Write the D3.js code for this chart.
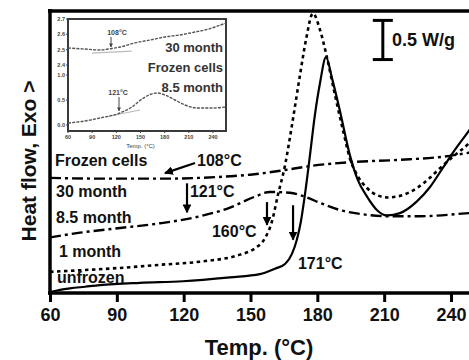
<!DOCTYPE html>
<html>
<head>
<meta charset="utf-8">
<script src="https://cdn.jsdelivr.net/npm/d3@7"></script>
<style>
  body { margin: 0; background: #fff; }
  svg { display: block; font-family: "Liberation Sans", Arial, sans-serif; font-weight: bold; }
</style>
</head>
<body>
<svg id="chart"></svg>
<script>
// main DSC curves: temperature (°C) and heat flow (W/g, arbitrary offset)
const unfrozenT = [60, 64.5, 69, 75.7, 82.4, 100.4, 119.7, 140.8, 154.2, 161, 165.5, 168.6, 170.8, 172.6, 174.4, 176.7, 178.9, 181.2, 183.9, 186.6, 190.1, 194.6, 198.2, 202.3, 206.7, 211.2, 217.1, 224.7, 230.5, 236.4, 241.8, 248, 252.9];
const unfrozenV = [0.01, 0.04, 0.06, 0.08, 0.10, 0.13, 0.15, 0.20, 0.24, 0.31, 0.37, 0.50, 0.68, 0.91, 1.25, 1.76, 2.27, 2.68, 3.01, 2.74, 2.33, 1.76, 1.44, 1.23, 1.06, 0.99, 1.02, 1.17, 1.35, 1.60, 1.83, 2.07, 2.27];

const month1T = [60, 73.5, 91.4, 109.4, 127.3, 145.3, 152, 156.5, 159.6, 162.3, 165.5, 168.6, 172.2, 174.9, 178, 181.2, 184.3, 187.9, 191.5, 194.6, 198.2, 202.3, 206.7, 211.7, 217.1, 224.7, 230.5, 236.4, 241.8, 248, 252.9];
const month1V = [0.27, 0.29, 0.32, 0.36, 0.40, 0.49, 0.57, 0.70, 0.91, 1.25, 1.63, 2.14, 2.78, 3.23, 3.57, 3.36, 3.01, 2.53, 2.08, 1.72, 1.49, 1.34, 1.25, 1.22, 1.24, 1.34, 1.47, 1.63, 1.76, 1.91, 2.06];

const month30T = [60, 82.4, 100.4, 113.9, 127.3, 140.8, 149.8, 165.5, 176.7, 194.6, 217.1, 236.4, 248, 252.9];
const month30V = [1.47, 1.46, 1.46, 1.46, 1.47, 1.49, 1.51, 1.57, 1.62, 1.67, 1.70, 1.74, 1.79, 1.81];

const month85T = [60, 73.5, 91.4, 109.4, 127.3, 140.8, 152, 158.7, 167.7, 174.4, 181.2, 190.1, 199.1, 211.2, 226, 248, 252.9];
const month85V = [0.71, 0.77, 0.83, 0.89, 0.98, 1.09, 1.23, 1.29, 1.28, 1.23, 1.15, 1.06, 1.01, 0.98, 0.98, 1.02, 1.03];

const xTicks = [60, 90, 120, 150, 180, 210, 240];

// inset curves
const insetTopT = [60, 81.1, 99.7, 114.6, 124.5, 143.2, 161.8, 180.4, 199, 217.6, 230.1, 242.5, 256.1];
const insetTopV = [2.511, 2.504, 2.498, 2.508, 2.517, 2.544, 2.563, 2.583, 2.596, 2.615, 2.628, 2.648, 2.674];
const insetBotT = [60, 81.1, 99.7, 124.5, 139.4, 151.9, 161.8, 170.5, 180.4, 192.8, 205.2, 220.1, 238.7, 256.1];
const insetBotV = [0.04, 0.08, 0.14, 0.24, 0.36, 0.52, 0.61, 0.64, 0.60, 0.50, 0.40, 0.34, 0.34, 0.36];
const insetTopTicks = [2.4, 2.5, 2.6, 2.7];
const insetBotTicks = [0.0, 0.5, 1.0];

const W = 469, H = 360;
const svg = d3.select("#chart").attr("width", W).attr("height", H);

const x = d3.scaleLinear().domain([60, 240]).range([50, 451]);
const y = d3.scaleLinear().domain([0, 3.6]).range([293, 11]);

svg.append("clipPath").attr("id", "plotClip")
  .append("rect").attr("x", 50).attr("y", 11).attr("width", W - 50).attr("height", 282);

const line = d3.line().x(d => x(d[0])).y(d => y(d[1])).curve(d3.curveMonotoneX);
const zip = (a, b) => a.map((t, i) => [t, b[i]]);

const curves = [
  { t: month30T, v: month30V, dash: "11,4,3,4", w: 2.4 },
  { t: month85T, v: month85V, dash: "11,4,3,4", w: 2.4 },
  { t: month1T, v: month1V, dash: "3.5,3.5", w: 2.6 },
  { t: unfrozenT, v: unfrozenV, dash: null, w: 2.2 }
];

const plot = svg.append("g").attr("clip-path", "url(#plotClip)");
curves.forEach(c => {
  plot.append("path")
    .attr("d", line(zip(c.t, c.v)))
    .attr("fill", "none")
    .attr("stroke", "#000")
    .attr("stroke-width", c.w)
    .attr("stroke-dasharray", c.dash);
});

// frame + axis
svg.append("line").attr("x1", 48).attr("x2", W).attr("y1", 11).attr("y2", 11)
  .attr("stroke", "#000").attr("stroke-width", 3.5);
svg.append("line").attr("x1", 50).attr("x2", 50).attr("y1", 9).attr("y2", 295)
  .attr("stroke", "#000").attr("stroke-width", 3.5);

const xAxis = svg.append("g").attr("transform", "translate(0,293)")
  .call(d3.axisBottom(x).tickValues(xTicks).tickSize(9).tickSizeOuter(0).tickPadding(6));
xAxis.select(".domain").attr("d", `M48,0H${W + 10}`).attr("stroke-width", 3.5);
xAxis.selectAll(".tick line").attr("stroke-width", 3);
xAxis.selectAll(".tick text")
  .attr("fill", "#111").style("font-size", "18px").style("font-weight", "bold")
  .style("font-family", "'Liberation Sans', Arial, sans-serif");

svg.append("text").attr("x", 259).attr("y", 355).attr("text-anchor", "middle")
  .style("font-size", "22px").attr("fill", "#111").text("Temp. (°C)");
svg.append("text")
  .attr("transform", "translate(36,161) rotate(-90)")
  .attr("text-anchor", "middle").style("font-size", "21px").attr("fill", "#111")
  .text("Heat flow, Exo >");

// arrow marker
svg.append("defs").append("marker")
  .attr("id", "arr").attr("viewBox", "0 0 10 10").attr("refX", 9).attr("refY", 5)
  .attr("markerWidth", 4).attr("markerHeight", 4).attr("orient", "auto")
  .append("path").attr("d", "M0,0L10,5L0,10Z").attr("fill", "#000");

// curve labels
const labels = [
  ["Frozen cells", 62.2, 1.62],
  ["30 month", 62.7, 1.23],
  ["8.5 month", 62.7, 0.89],
  ["1 month", 64.0, 0.46],
  ["unfrozen", 63.1, 0.13],
  ["108°C", 126.0, 1.62],
  ["121°C", 122.8, 1.23],
  ["160°C", 132.7, 0.71],
  ["171°C", 171.3, 0.31]
];
svg.selectAll(".lbl").data(labels).enter().append("text")
  .attr("class", "lbl")
  .attr("x", d => x(d[1])).attr("y", d => y(d[2]))
  .style("font-size", "16px").attr("fill", "#111")
  .text(d => d[0]);

const arrows = [
  [125.1, 1.66, 111.6, 1.53],
  [121.5, 1.40, 121.5, 1.03],
  [157.4, 1.16, 157.4, 0.87],
  [169.1, 1.12, 169.1, 0.68]
];
svg.selectAll(".arw").data(arrows).enter().append("line")
  .attr("class", "arw")
  .attr("x1", d => x(d[0])).attr("y1", d => y(d[1]))
  .attr("x2", d => x(d[2])).attr("y2", d => y(d[3]))
  .attr("stroke", "#000").attr("stroke-width", 2.2)
  .attr("marker-end", "url(#arr)");

// scale bar 0.5 W/g
const sbT = 209.4, sbTop = 3.48, sbLen = 0.5;
const sb = svg.append("g").attr("stroke", "#000").attr("stroke-width", 3);
sb.append("line").attr("x1", x(sbT)).attr("x2", x(sbT)).attr("y1", y(sbTop)).attr("y2", y(sbTop - sbLen));
sb.append("line").attr("x1", x(sbT) - 10).attr("x2", x(sbT) + 10).attr("y1", y(sbTop)).attr("y2", y(sbTop));
sb.append("line").attr("x1", x(sbT) - 10).attr("x2", x(sbT) + 10).attr("y1", y(sbTop - sbLen)).attr("y2", y(sbTop - sbLen));
svg.append("text").attr("x", x(213.5)).attr("y", y(3.15))
  .style("font-size", "18px").attr("fill", "#111").text("0.5 W/g");

// ---------- INSET ----------
const ix = d3.scaleLinear().domain([60, 240]).range([68, 213]);
const iyTop = d3.scaleLinear().domain([2.4, 2.7]).range([65, 19]);
const iyBot = d3.scaleLinear().domain([0, 1]).range([125, 75]);
const inset = svg.append("g");

inset.append("rect").attr("x", 68).attr("y", 19).attr("width", 158).attr("height", 112)
  .attr("fill", "#fff").attr("stroke", "#3a3a3a").attr("stroke-width", 2);

// faint onset tangents
inset.append("line").attr("x1", ix(89.8)).attr("x2", ix(139)).attr("y1", iyTop(2.478)).attr("y2", iyTop(2.49))
  .attr("stroke", "#bbb").attr("stroke-width", 1.2);
inset.append("line").attr("x1", ix(105.9)).attr("x2", ix(149.4)).attr("y1", iyBot(0.16)).attr("y2", iyBot(0.30))
  .attr("stroke", "#bbb").attr("stroke-width", 1.2);

const iTopLine = d3.line().x(d => ix(d[0])).y(d => iyTop(d[1])).curve(d3.curveMonotoneX);
const iBotLine = d3.line().x(d => ix(d[0])).y(d => iyBot(d[1])).curve(d3.curveMonotoneX);
inset.append("path").attr("d", iTopLine(zip(insetTopT, insetTopV)))
  .attr("fill", "none").attr("stroke", "#555").attr("stroke-width", 1.4).attr("stroke-dasharray", "3,1.2");
inset.append("path").attr("d", iBotLine(zip(insetBotT, insetBotV)))
  .attr("fill", "none").attr("stroke", "#555").attr("stroke-width", 1.4).attr("stroke-dasharray", "3,1.2");

const tickStyle = sel => sel.style("font-size", "5.5px").attr("fill", "#444");
xTicks.forEach(t => {
  inset.append("line").attr("x1", ix(t)).attr("x2", ix(t)).attr("y1", 131).attr("y2", 133)
    .attr("stroke", "#444").attr("stroke-width", 1);
  tickStyle(inset.append("text").attr("x", ix(t)).attr("y", 138.5).attr("text-anchor", "middle").text(t));
});
insetTopTicks.forEach(v => {
  inset.append("line").attr("x1", 66).attr("x2", 68).attr("y1", iyTop(v)).attr("y2", iyTop(v))
    .attr("stroke", "#444").attr("stroke-width", 1);
  tickStyle(inset.append("text").attr("x", 65).attr("y", iyTop(v) + 2).attr("text-anchor", "end").text(v.toFixed(1)));
});
insetBotTicks.forEach(v => {
  inset.append("line").attr("x1", 66).attr("x2", 68).attr("y1", iyBot(v)).attr("y2", iyBot(v))
    .attr("stroke", "#444").attr("stroke-width", 1);
  tickStyle(inset.append("text").attr("x", 65).attr("y", iyBot(v) + 2).attr("text-anchor", "end").text(v.toFixed(1)));
});
inset.append("text").attr("x", ix(150)).attr("y", 148).attr("text-anchor", "middle")
  .style("font-size", "6px").style("font-weight", "normal").attr("fill", "#444").text("Temp. (°C)");

const insetLabels = [
  ["30 month", 252.4, iyTop(2.485)],
  ["Frozen cells", 252.4, iyBot(1.06)],
  ["8.5 month", 252.4, iyBot(0.66)]
];
insetLabels.forEach(d => {
  inset.append("text").attr("x", ix(d[1])).attr("y", d[2]).attr("text-anchor", "end")
    .style("font-size", "13px").attr("fill", "#333").text(d[0]);
});
inset.append("text").attr("x", ix(120.8)).attr("y", iyTop(2.596)).attr("text-anchor", "middle")
  .style("font-size", "7px").attr("fill", "#444").text("108°C");
inset.append("text").attr("x", ix(122.1)).attr("y", iyBot(0.60)).attr("text-anchor", "middle")
  .style("font-size", "7px").attr("fill", "#444").text("121°C");

svg.append("defs").append("marker")
  .attr("id", "arrS").attr("viewBox", "0 0 10 10").attr("refX", 9).attr("refY", 5)
  .attr("markerWidth", 4).attr("markerHeight", 4).attr("orient", "auto")
  .append("path").attr("d", "M0,0L10,5L0,10Z").attr("fill", "#444");
inset.append("line").attr("x1", ix(113.4)).attr("x2", ix(113.4)).attr("y1", iyTop(2.583)).attr("y2", iyTop(2.517))
  .attr("stroke", "#444").attr("stroke-width", 1).attr("marker-end", "url(#arrS)");
inset.append("line").attr("x1", ix(123.3)).attr("x2", ix(123.3)).attr("y1", iyBot(0.56)).attr("y2", iyBot(0.28))
  .attr("stroke", "#444").attr("stroke-width", 1).attr("marker-end", "url(#arrS)");
</script>
</body>
</html>
